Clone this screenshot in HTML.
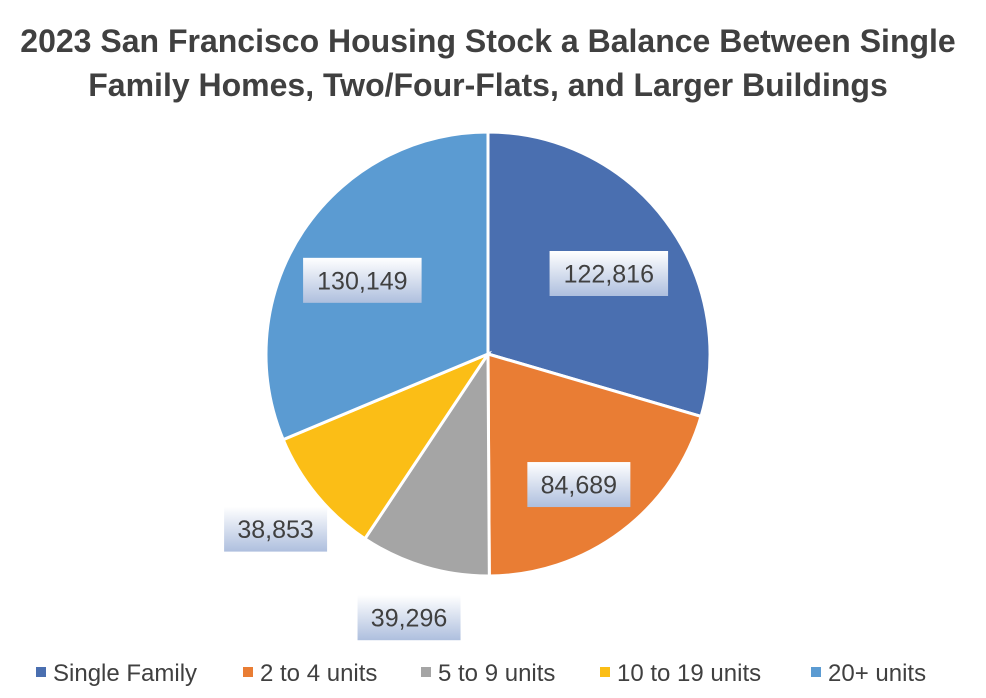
<!DOCTYPE html>
<html><head><meta charset="utf-8"><style>
body{margin:0;background:#fff;font-family:"Liberation Sans",sans-serif;}
#wrap{position:relative;width:986px;height:698px;overflow:hidden;}
</style></head><body>
<div id="wrap">
<svg id="svg" width="986" height="698">
<text x="488" y="52" text-anchor="middle" font-size="32" font-weight="bold" fill="#404040" font-family="Liberation Sans, sans-serif">2023 San Francisco Housing Stock a Balance Between Single</text>
<text x="488" y="96" text-anchor="middle" font-size="32" font-weight="bold" fill="#404040" font-family="Liberation Sans, sans-serif">Family Homes, Two/Four-Flats, and Larger Buildings</text>
<defs><linearGradient id="lg" x1="0" y1="0" x2="0" y2="1"><stop offset="0" stop-color="#ffffff"/><stop offset="1" stop-color="#aebfde"/></linearGradient></defs>
<g id="slices"></g><g id="labels"></g><g id="legend"></g>
</svg>
</div>
<script>
const categories=["Single Family","2 to 4 units","5 to 9 units","10 to 19 units","20+ units"];
const values=[122816,84689,39296,38853,130149];
const colors=["#4a6fb0","#e97d34","#a5a5a5","#fbbe16","#5b9bd2"];
const NS="http://www.w3.org/2000/svg";
const cx=488,cy=354,R=222;
const total=values.reduce((a,b)=>a+b,0);
function pt(a,r){return [cx+r*Math.sin(a),cy-r*Math.cos(a)];}
const sg=document.getElementById('slices'),lg=document.getElementById('labels'),leg=document.getElementById('legend');
let acc=0;
values.forEach((v,i)=>{
 const a0=acc/total*2*Math.PI;acc+=v;const a1=acc/total*2*Math.PI;
 const p0=pt(a0,R),p1=pt(a1,R);const large=(a1-a0)>Math.PI?1:0;
 const p=document.createElementNS(NS,'path');
 p.setAttribute('d',`M${cx},${cy}L${p0[0]},${p0[1]}A${R},${R} 0 ${large} 1 ${p1[0]},${p1[1]}Z`);
 p.setAttribute('fill',colors[i]);p.setAttribute('stroke','#fff');p.setAttribute('stroke-width','3');
 
 
 sg.appendChild(p);
 const am=(a0+a1)/2;const frac=v/total;
 const outside=frac<0.12;
 const c=pt(am,outside?R*1.24:R*0.68);
 if(!outside)c[1]+=10;
 const txt=v.toLocaleString('en-US');
 const w=txt.length*15.5+10,h=45;
 const g=document.createElementNS(NS,'g');
 
 
 const r=document.createElementNS(NS,'rect');
 r.setAttribute('x',c[0]-w/2);r.setAttribute('y',c[1]-h/2);r.setAttribute('width',w);r.setAttribute('height',h);r.setAttribute('fill','url(#lg)');
 g.appendChild(r);
 const t=document.createElementNS(NS,'text');
 t.setAttribute('x',c[0]);t.setAttribute('y',c[1]+9);t.setAttribute('text-anchor','middle');t.setAttribute('font-size','25');t.setAttribute('fill','#404040');
 t.textContent=txt;g.appendChild(t);lg.appendChild(g);
});
const legX=[36,243,421,600,811];
categories.forEach((c,i)=>{
 const g=document.createElementNS(NS,'g');
 
 
 const r=document.createElementNS(NS,'rect');
 r.setAttribute('x',legX[i]);r.setAttribute('y',667);r.setAttribute('width',10);r.setAttribute('height',10);r.setAttribute('fill',colors[i]);
 g.appendChild(r);
 const t=document.createElementNS(NS,'text');
 t.setAttribute('x',legX[i]+17);t.setAttribute('y',681);t.setAttribute('font-size','24');t.setAttribute('fill','#404040');
 t.textContent=c;g.appendChild(t);leg.appendChild(g);
});
</script>
</body></html>
